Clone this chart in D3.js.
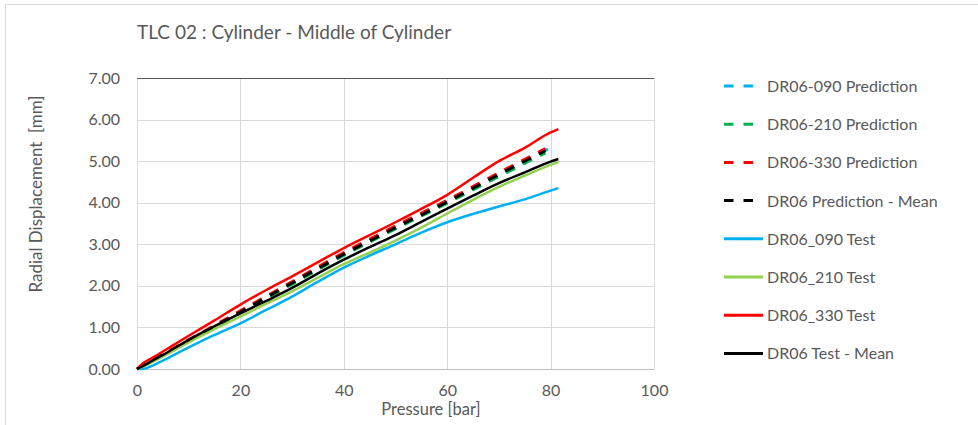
<!DOCTYPE html>
<html>
<head>
<meta charset="utf-8">
<script src="https://cdn.jsdelivr.net/npm/d3@7"></script>
<style>
  body { margin: 0; background: #fff; }
  text { font-family: Lato, "Open Sans", sans-serif; fill: #595959; }
</style>
</head>
<body>
<div id="chart"></div>
<script>
// chart data
var titleText = "TLC 02 : Cylinder - Middle of Cylinder";
var xTicks = [0, 20, 40, 60, 80, 100];
var yTicks = [0, 1, 2, 3, 4, 5, 6, 7];

// predictions (dashed)
var predPressure = [0, 10, 20, 30, 40, 50, 60, 70, 79];
var predPressure090 = [0, 10, 20, 30, 40, 50, 60, 70, 79.6];
var pred090 = [0, 0.68, 1.37, 2.06, 2.75, 3.39, 4.02, 4.68, 5.30];
var pred210 = [0, 0.66, 1.35, 2.04, 2.73, 3.37, 3.99, 4.63, 5.20];
var pred330 = [0, 0.70, 1.40, 2.10, 2.80, 3.44, 4.06, 4.72, 5.30];
var predMean = [0, 0.68, 1.37, 2.07, 2.76, 3.40, 4.02, 4.68, 5.25];

// tests (solid)
var testPressure = [0, 1, 3, 5, 10, 15, 20, 25, 30, 35, 40, 45, 50, 55, 60, 65, 70, 75, 80, 81.5];
var test090 = [0, 0, 0.08, 0.20, 0.52, 0.82, 1.10, 1.42, 1.74, 2.10, 2.44, 2.73, 3.00, 3.28, 3.53, 3.73, 3.91, 4.08, 4.29, 4.35];
var test210 = [0, 0.05, 0.17, 0.30, 0.64, 0.96, 1.26, 1.57, 1.87, 2.20, 2.52, 2.80, 3.09, 3.40, 3.74, 4.07, 4.38, 4.65, 4.91, 4.98];
var test330 = [0, 0.12, 0.27, 0.42, 0.80, 1.17, 1.55, 1.90, 2.23, 2.57, 2.91, 3.22, 3.53, 3.85, 4.19, 4.60, 5.00, 5.32, 5.69, 5.77];
var testMean = [0, 0.06, 0.20, 0.34, 0.70, 1.03, 1.34, 1.64, 1.95, 2.30, 2.63, 2.93, 3.22, 3.54, 3.86, 4.17, 4.47, 4.73, 4.99, 5.05];

var series = [
  { name: "DR06-090 Prediction", x: predPressure090, y: pred090, color: "#00b0f0", dashed: true },
  { name: "DR06-210 Prediction", x: predPressure, y: pred210, color: "#00b050", dashed: true },
  { name: "DR06-330 Prediction", x: predPressure, y: pred330, color: "#ff0000", dashed: true },
  { name: "DR06 Prediction - Mean", x: predPressure, y: predMean, color: "#000000", dashed: true },
  { name: "DR06_090 Test", x: testPressure, y: test090, color: "#00b0f0", dashed: false },
  { name: "DR06_210 Test", x: testPressure, y: test210, color: "#92d050", dashed: false },
  { name: "DR06_330 Test", x: testPressure, y: test330, color: "#ff0000", dashed: false },
  { name: "DR06 Test - Mean", x: testPressure, y: testMean, color: "#000000", dashed: false }
];

var svgWidth = 978;
var svgHeight = 425;

var margin = { top: 78, left: 137 };
var width = 517;
var height = 291;

var svg = d3.select("#chart")
  .append("svg")
  .attr("width", svgWidth)
  .attr("height", svgHeight);

// outer frame
svg.append("rect")
  .attr("x", 5.5)
  .attr("y", 4.5)
  .attr("width", svgWidth + 10)
  .attr("height", svgHeight + 10)
  .attr("fill", "none")
  .attr("stroke", "#d9d9d9");

svg.append("text")
  .attr("x", 137)
  .attr("y", 39)
  .attr("font-size", "19px")
  .text(titleText);

var chartGroup = svg.append("g")
  .attr("transform", `translate(${margin.left}, ${margin.top})`);

var xScale = d3.scaleLinear().domain([0, 100]).range([0, width]);
var yScale = d3.scaleLinear().domain([0, 7]).range([height, 0]);

// gridlines
chartGroup.append("g")
  .selectAll("line")
  .data(xTicks)
  .enter()
  .append("line")
  .attr("x1", d => Math.round(xScale(d)) + 0.5)
  .attr("x2", d => Math.round(xScale(d)) + 0.5)
  .attr("y1", 0)
  .attr("y2", height)
  .attr("stroke", "#d9d9d9");

chartGroup.append("g")
  .selectAll("line")
  .data(yTicks)
  .enter()
  .append("line")
  .attr("x1", 0)
  .attr("x2", width)
  .attr("y1", d => Math.round(yScale(d)) + 0.5)
  .attr("y2", d => Math.round(yScale(d)) + 0.5)
  .attr("stroke", d => d === 7 ? "#595959" : (d === 0 ? "#bfbfbf" : "#d9d9d9"));

// axes, labels only
var xAxis = d3.axisBottom(xScale).tickValues(xTicks).tickSize(0).tickPadding(16);
var yAxis = d3.axisLeft(yScale).tickValues(yTicks).tickSize(0).tickPadding(17)
  .tickFormat(d3.format(".2f"));

chartGroup.append("g")
  .attr("transform", `translate(0, ${height})`)
  .call(xAxis)
  .call(g => g.select(".domain").remove())
  .selectAll("text")
  .attr("font-size", "16px")
  .attr("font-family", "Lato, sans-serif")
  .attr("fill", "#595959");

chartGroup.append("g")
  .call(yAxis)
  .call(g => g.select(".domain").remove())
  .selectAll("text")
  .attr("font-size", "16px")
  .attr("font-family", "Lato, sans-serif")
  .attr("fill", "#595959");

// axis titles
chartGroup.append("text")
  .attr("transform", "rotate(-90)")
  .attr("x", 0 - 116)
  .attr("y", -95)
  .attr("text-anchor", "middle")
  .attr("font-size", "17px")
  .style("white-space", "pre")
  .text("Radial Displacement  [mm]");

chartGroup.append("text")
  .attr("x", 294)
  .attr("y", height + 46)
  .attr("text-anchor", "middle")
  .attr("font-size", "16.5px")
  .text("Pressure [bar]");

// lines
var line = d3.line()
  .x(d => xScale(d[0]))
  .y(d => yScale(d[1]))
  .curve(d3.curveMonotoneX);

chartGroup.selectAll(".series")
  .data(series)
  .enter()
  .append("path")
  .attr("class", "series")
  .attr("d", s => line(s.x.map((p, i) => [p, s.y[i]])))
  .attr("fill", "none")
  .attr("stroke", s => s.color)
  .attr("stroke-width", s => s.dashed ? 3 : 2.5)
  .attr("stroke-dasharray", s => s.dashed ? "10,9" : null)
  .attr("stroke-linejoin", "round");

// legend
var legend = svg.append("g")
  .selectAll("g")
  .data(series)
  .enter()
  .append("g")
  .attr("transform", (d, i) => `translate(724, ${86 + i * 38.2})`);

legend.append("line")
  .attr("x1", 0)
  .attr("x2", d => d.dashed ? 31 : 39)
  .attr("y1", 0)
  .attr("y2", 0)
  .attr("stroke", d => d.color)
  .attr("stroke-width", 3)
  .attr("stroke-dasharray", d => d.dashed ? "9.5,10" : null);

legend.append("text")
  .attr("x", 43)
  .attr("y", 6)
  .attr("font-size", "16px")
  .text(d => d.name);
</script>
</body>
</html>
